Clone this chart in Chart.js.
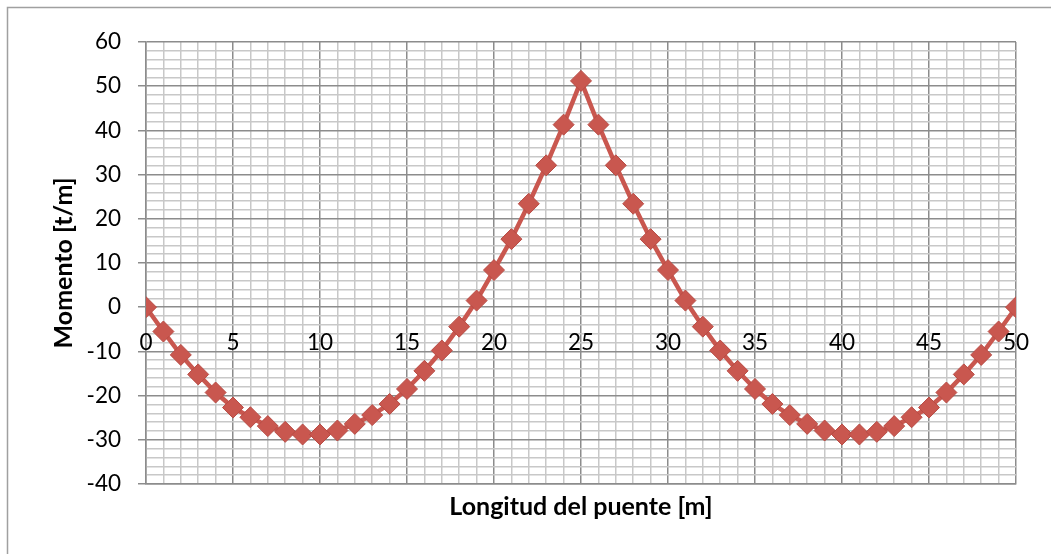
<!DOCTYPE html>
<html>
<head>
<meta charset="utf-8">
<title>Momento</title>
<script src="https://cdn.jsdelivr.net/npm/chart.js@4.4.0/dist/chart.umd.min.js"></script>
<style>
  html, body { margin: 0; padding: 0; background: #fff; }
  #wrap { width: 1051px; height: 554px; position: relative; }
</style>
</head>
<body>
<div id="wrap"><canvas id="momentChart"></canvas></div>
<script>
// Longitud del puente [m]
const positions = [
  0, 1, 2, 3, 4, 5, 6, 7, 8, 9, 10, 11, 12, 13, 14, 15, 16, 17, 18, 19, 20, 21, 22, 23, 24, 25,
  26, 27, 28, 29, 30, 31, 32, 33, 34, 35, 36, 37, 38, 39, 40, 41, 42, 43, 44, 45, 46, 47, 48, 49, 50
];
// Momento [t/m]
const moments = [
  0, -5.5, -10.8, -15.2, -19.3, -22.7, -24.9, -26.9, -28.2, -28.8, -28.8, -27.9, -26.4, -24.4, -21.9,
  -18.5, -14.4, -9.8, -4.4, 1.5, 8.4, 15.4, 23.4, 32.1, 41.3, 51.2,
  41.3, 32.1, 23.4, 15.4, 8.4, 1.5, -4.4, -9.8, -14.4, -18.5, -21.9, -24.4, -26.4, -27.9, -28.8,
  -28.8, -28.2, -26.9, -24.9, -22.7, -19.3, -15.2, -10.8, -5.5, 0
];
const xTicks = [0, 5, 10, 15, 20, 25, 30, 35, 40, 45, 50];
const yTicks = [-40, -30, -20, -10, 0, 10, 20, 30, 40, 50, 60];

const MAJOR = '#8c8c8c';
const MINOR = '#c8c8c8';
const SERIES = '#c9574f';

// outer frame of the chart object
const framePlugin = {
  id: 'frame',
  beforeDraw(chart) {
    const ctx = chart.ctx;
    ctx.save();
    ctx.fillStyle = '#fff';
    ctx.fillRect(0, 0, chart.width, chart.height);
    ctx.strokeStyle = '#a0a0a0';
    ctx.lineWidth = 1.5;
    ctx.strokeRect(7.5, 7.5, chart.width + 20, chart.height + 20);
    ctx.restore();
  }
};

// category labels sit on the zero line, like the spreadsheet axis crossing at 0
const crossLabelsPlugin = {
  id: 'crossLabels',
  beforeDatasetsDraw(chart) {
    const { ctx, scales: { x, y } } = chart;
    const yZero = y.getPixelForValue(0);
    ctx.save();
    ctx.font = '22.5px Lato';
    ctx.fillStyle = '#000';
    ctx.textAlign = 'center';
    ctx.textBaseline = 'middle';
    xTicks.forEach(v => ctx.fillText(String(v), x.getPixelForValue(v), yZero + 36));
    ctx.restore();
  }
};

const ctx = document.getElementById('momentChart').getContext('2d');
new Chart(ctx, {
  type: 'line',
  data: {
    datasets: [{
      data: positions.map((p, i) => ({ x: p, y: moments[i] })),
      borderColor: SERIES,
      borderWidth: 4.5,
      backgroundColor: SERIES,
      pointStyle: 'rectRot',
      pointRadius: 10.5,
      pointBorderColor: '#b84c45',
      pointBorderWidth: 1,
      tension: 0,
      fill: false
    }]
  },
  options: {
    responsive: true,
    maintainAspectRatio: false,
    animation: false,
    devicePixelRatio: 1,
    layout: { padding: { left: 0, top: 42, right: 35, bottom: 0 } },
    plugins: {
      legend: { display: false },
      tooltip: { enabled: false }
    },
    scales: {
      x: {
        type: 'linear',
        min: 0,
        max: 50,
        ticks: { stepSize: 1, display: false, autoSkip: false },
        grid: {
          color: c => (c.tick && xTicks.includes(c.tick.value)) ? MAJOR : MINOR,
          lineWidth: 1.5,
          drawTicks: false
        },
        border: { color: MAJOR, width: 1.5 },
        title: {
          display: true,
          text: 'Longitud del puente [m]',
          color: '#000',
          font: { family: 'Lato', size: 25, weight: 'bold' },
          padding: { top: 0, bottom: 32 }
        },
        afterFit: s => { s.height = 70; }
      },
      y: {
        min: -40,
        max: 60,
        ticks: {
          stepSize: 2,
          autoSkip: false,
          color: '#000',
          padding: 17,
          font: { family: 'Lato', size: 22.5 },
          callback: v => yTicks.includes(v) ? String(v) : ''
        },
        grid: {
          color: c => (c.tick && yTicks.includes(c.tick.value)) ? MAJOR : MINOR,
          lineWidth: 1.5,
          tickLength: 8,
          tickColor: c => (c.tick && yTicks.includes(c.tick.value)) ? MAJOR : 'rgba(0,0,0,0)'
        },
        border: { color: MAJOR, width: 1.5 },
        title: {
          display: true,
          text: 'Momento [t/m]',
          color: '#000',
          font: { family: 'Lato', size: 25, weight: 'bold' },
          padding: { top: 49, bottom: 0 }
        },
        afterFit: s => { s.width = 146; }
      }
    }
  },
  plugins: [framePlugin, crossLabelsPlugin]
});
</script>
</body>
</html>
